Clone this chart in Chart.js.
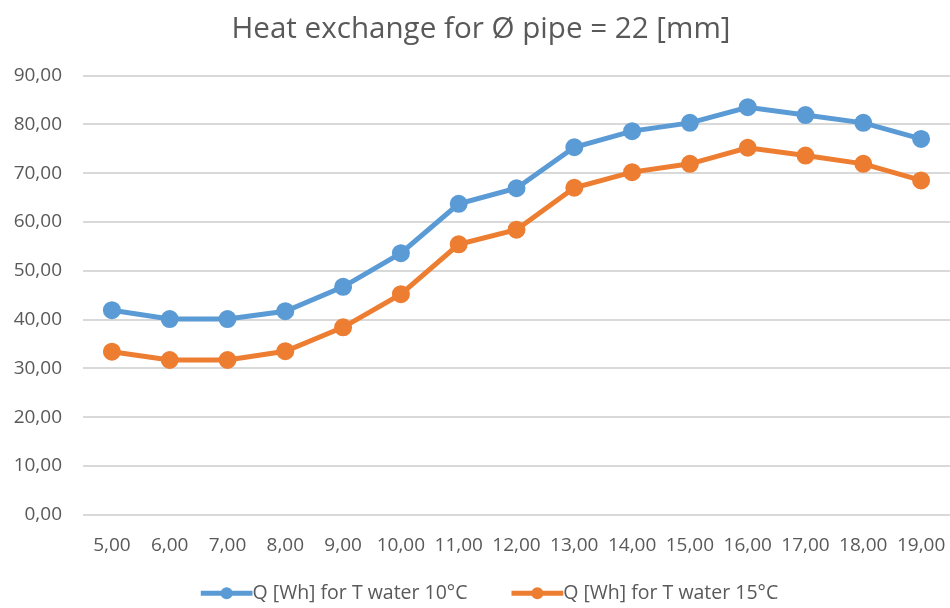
<!DOCTYPE html>
<html>
<head>
<meta charset="utf-8">
<script src="https://cdn.jsdelivr.net/npm/chart.js@4"></script>
<style>
  html, body { margin: 0; padding: 0; background: #fff; }
  #wrap { width: 950px; height: 608px; }
</style>
</head>
<body>
<div id="wrap"><canvas id="chart"></canvas></div>
<script>
var DIAMETERS = ['5,00', '6,00', '7,00', '8,00', '9,00', '10,00', '11,00', '12,00', '13,00', '14,00', '15,00', '16,00', '17,00', '18,00', '19,00'];

var Q_WATER_10 = [41.9, 40.1, 40.1, 41.7, 46.7, 53.6, 63.7, 66.9, 75.3, 78.6, 80.3, 83.5, 81.9, 80.3, 77.0];
var Q_WATER_15 = [33.4, 31.7, 31.7, 33.5, 38.4, 45.2, 55.4, 58.4, 67.0, 70.2, 71.9, 75.2, 73.6, 71.9, 68.5];

var BLUE = '#5b9bd5';
var ORANGE = '#ed7d31';
var TEXT = '#595959';
var FONT = '"Open Sans", sans-serif';

var LEGEND_SIZE = 19.5;
var LEGEND_LINE = 42;   // visible marker length (plus half the font size)
var LEGEND_GAP = 17;    // blank space in front of each marker
var LEGEND_PAD = 27;

// legend marker: a thick line with a dot in the middle, running up to the text
var legendMarkers = {
    id: 'legendMarkers',
    afterDraw: function (chart) {
        var legend = chart.legend;
        if (!legend || !legend.legendHitBoxes) return;
        var ctx = chart.ctx;
        var len = LEGEND_LINE + LEGEND_SIZE / 2;
        legend.legendHitBoxes.forEach(function (box, i) {
            var color = chart.data.datasets[i].borderColor;
            var x0 = box.left + LEGEND_GAP;
            var cy = box.top + box.height / 2;
            ctx.save();
            ctx.fillStyle = color;
            ctx.fillRect(x0, cy - 2.5, len, 5);
            ctx.beginPath();
            ctx.arc(x0 + len / 2, cy, 6, 0, Math.PI * 2);
            ctx.fill();
            ctx.restore();
        });
    }
};

new Chart(document.getElementById('chart'), {
    type: 'line',
    data: {
        labels: DIAMETERS,
        datasets: [{
            label: 'Q [Wh] for T water 10°C',
            data: Q_WATER_10,
            borderColor: BLUE,
            backgroundColor: BLUE,
            borderWidth: 5,
            pointRadius: 6.5,
            pointHoverRadius: 6.5,
            tension: 0
        }, {
            label: 'Q [Wh] for T water 15°C',
            data: Q_WATER_15,
            borderColor: ORANGE,
            backgroundColor: ORANGE,
            borderWidth: 5,
            pointRadius: 6.5,
            pointHoverRadius: 6.5,
            tension: 0
        }]
    },
    options: {
        responsive: true,
        maintainAspectRatio: false,
        animation: false,
        layout: {
            autoPadding: false,
            padding: { left: 12, right: 0, top: 0, bottom: -5 }
        },
        plugins: {
            title: {
                display: true,
                text: 'Heat exchange for Ø pipe = 22 [mm]',
                color: TEXT,
                font: { family: FONT, size: 29.6, weight: 'normal' },
                padding: { top: 12, bottom: 28 }
            },
            legend: {
                position: 'bottom',
                labels: {
                    color: TEXT,
                    font: { family: FONT, size: LEGEND_SIZE },
                    boxWidth: LEGEND_LINE + LEGEND_GAP,
                    boxHeight: 5,
                    padding: LEGEND_PAD,
                    generateLabels: function (chart) {
                        var items = Chart.defaults.plugins.legend.labels.generateLabels(chart);
                        items.forEach(function (it) {
                            it.fillStyle = 'rgba(0,0,0,0)';
                            it.strokeStyle = 'rgba(0,0,0,0)';
                            it.lineWidth = 0;
                        });
                        return items;
                    }
                }
            },
            tooltip: { enabled: false }
        },
        scales: {
            x: {
                offset: true,
                // invisible tick marks push the labels down
                grid: {
                    display: true,
                    drawOnChartArea: false,
                    drawTicks: true,
                    tickLength: 19,
                    tickColor: 'rgba(0,0,0,0)'
                },
                border: { display: false },
                ticks: {
                    color: TEXT,
                    font: { family: FONT, size: 19 },
                    maxRotation: 0,
                    autoSkip: false,
                    padding: 0
                }
            },
            y: {
                min: 0,
                max: 90,
                grid: { color: '#d9d9d9', lineWidth: 2, drawTicks: false },
                border: { display: false },
                ticks: {
                    stepSize: 10,
                    color: TEXT,
                    font: { family: FONT, size: 19 },
                    padding: 21,
                    callback: function (v) { return v.toFixed(2).replace('.', ','); }
                },
                afterFit: function (scale) { scale.width = 71; }
            }
        }
    },
    plugins: [legendMarkers]
});
</script>
</body>
</html>
